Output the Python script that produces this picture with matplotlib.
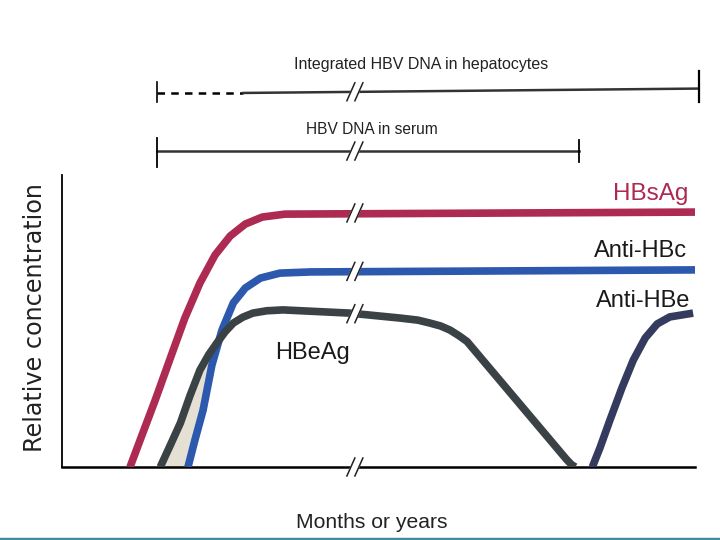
import numpy as np
import matplotlib
matplotlib.use("Agg")
import matplotlib.pyplot as plt
from matplotlib.lines import Line2D

# time axis (arbitrary units, 0-100) and relative concentration (0-100)
hbsag_t = [10.3, 11.9, 14.3, 16.7, 19.0, 21.4, 23.8, 26.2, 28.6, 31.3, 34.9, 100]
hbsag_c = [0, 9.2, 22.9, 37.3, 51.0, 63.0, 72.6, 79.1, 83.2, 85.6, 86.6, 87.3]

antihbc_t = [19.5, 20.6, 21.9, 23.3, 24.9, 26.7, 28.6, 31.0, 34.1, 38.9, 100]
antihbc_c = [0, 9.2, 19.5, 34.9, 46.9, 56.2, 61.3, 64.7, 66.4, 66.8, 67.5]

hbeag_t = [15.1, 16.7, 18.3, 19.8, 21.4, 22.8, 24.1, 25.4, 26.7, 28.2, 29.8, 32.0, 34.6,
           45.2, 53.2, 56.0, 57.9, 59.6, 61.1, 62.5, 63.8, 79.6, 80.4, 81.0]
hbeag_c = [0, 7.5, 15.1, 24.3, 33.2, 38.5, 42.5, 46.3, 49.3, 51.3, 52.7, 53.5, 53.8,
           52.7, 51.0, 50.3, 49.3, 48.3, 46.9, 45.0, 43.0, 2.6, 0.8, 0]

antihbe_t = [83.7, 84.9, 86.5, 88.4, 90.2, 92.1, 94.0, 96.0, 99.7]
antihbe_c = [0, 6.5, 16.1, 27.1, 36.6, 44.2, 49.0, 51.4, 52.7]

hepatocyte_span = [14.6, 28.3, 100.6]   # start, end of dashed part, end
serum_span = [14.6, 81.6]
break_t = 46.0

red = "#ad2a52"
blue = "#2c58ae"
grey = "#3b4246"
navy = "#353b5f"
font = ["Liberation Sans", "DejaVu Sans"]

fig = plt.figure(figsize=(7.2, 5.4), dpi=100)
ax = fig.add_axes([62 / 720, 73 / 540, 633 / 720, 292 / 540])
ax.set_xlim(-0.5, 100)
ax.set_ylim(0, 100)
for s in ["top", "right"]:
    ax.spines[s].set_visible(False)
ax.spines["left"].set_linewidth(1.3)
ax.spines["bottom"].set_linewidth(1.8)
ax.set_xticks([])
ax.set_yticks([])

# light fill between HBeAg and anti-HBc on the rise
yy = np.linspace(0, 47, 60)
xl = np.interp(yy, hbeag_c[:12], hbeag_t[:12])
xr = np.interp(yy, antihbc_c, antihbc_t)
ax.fill_betweenx(yy, xl, xr, color="#e4e1d4", lw=0, zorder=1)

kw = dict(lw=5.5, solid_capstyle="butt", solid_joinstyle="round", zorder=3)
ax.plot(hbsag_t, hbsag_c, color=red, **kw)
ax.plot(antihbc_t, antihbc_c, color=blue, **kw)
ax.plot(hbeag_t, hbeag_c, color=grey, **kw)
ax.plot(antihbe_t, antihbe_c, color=navy, **kw)

# top bars
y1 = 128.1
y2 = 108.2
ax.plot(hepatocyte_span[:2], [y1, y1], color="black", lw=1.8, ls=(0, (3, 2.5)), clip_on=False)
ax.plot(hepatocyte_span[1:], [y1, y1 + 1.5], color="#333333", lw=1.8, clip_on=False)
ax.plot([hepatocyte_span[0]] * 2, [y1 - 3.0, y1 + 3.8], color="black", lw=1.2, clip_on=False)
ax.plot([hepatocyte_span[2]] * 2, [y1 - 3.2, y1 + 7.5], color="black", lw=1.6, clip_on=False)
ax.plot(serum_span, [y2, y2], color="#333333", lw=1.8, clip_on=False)
ax.plot([serum_span[0]] * 2, [y2 - 5.5, y2 + 4.5], color="black", lw=1.3, clip_on=False)
ax.plot([serum_span[1]] * 2, [y2 - 3.8, y2 + 3.8], color="black", lw=1.3, clip_on=False)

# break marks "//"
px_x, px_y = 1 / 6.3, 1 / 2.92
for yb in [0, 87.0, 67.0, 52.5, y2, y1 + 0.4]:
    band_x = [break_t - 8 * px_x, break_t + 0 * px_x, break_t + 8 * px_x, break_t + 0 * px_x]
    band_y = [yb - 9 * px_y, yb - 9 * px_y, yb + 9 * px_y, yb + 9 * px_y]
    ax.fill(band_x, band_y, color="white", zorder=4, clip_on=False)
    for off in [-4, 4]:
        ax.plot([break_t + (off - 4) * px_x, break_t + (off + 4) * px_x],
                [yb - 9 * px_y, yb + 9 * px_y], color="#222222", lw=1.1, zorder=5,
                clip_on=False)

# labels
ax.text(98.9, 91.4, "HBsAg", color=red, fontsize=17.5, family=font, ha="right", va="baseline")
ax.text(98.8, 71.9, "Anti-HBc", color="#1a1a1a", fontsize=17, family=font, ha="right", va="baseline")
ax.text(99.2, 54.8, "Anti-HBe", color="#1a1a1a", fontsize=17, family=font, ha="right", va="baseline")
ax.text(33.3, 37.0, "HBeAg", color="#1a1a1a", fontsize=17, family=font, ha="left", va="baseline")

fig.text(421 / 720, 1 - 69 / 540, "Integrated HBV DNA in hepatocytes", fontsize=11.5,
         family=font, ha="center", va="baseline", color="#222222")
fig.text(372 / 720, 1 - 134 / 540, "HBV DNA in serum", fontsize=11.2,
         family=font, ha="center", va="baseline", color="#222222")
fig.text(372 / 720, 1 - 528 / 540, "Months or years", fontsize=15.2,
         family=font, ha="center", va="baseline", color="#222222")
fig.text(35 / 720, 1 - 318 / 540, "Relative concentration", fontsize=17.2,
         rotation=90, ha="center", va="center", color="#222222")

fig.add_artist(Line2D([0, 1], [1.5 / 540, 1.5 / 540], color="#3e8ea0", lw=2.5))

fig.savefig("out.png", dpi=100)
